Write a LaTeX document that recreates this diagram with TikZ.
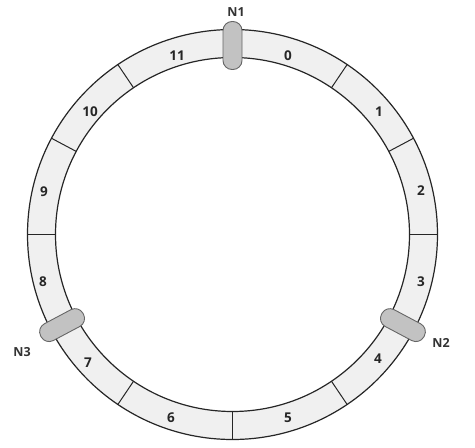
\documentclass[tikz,border=0pt]{standalone}
\usepackage{fontspec}
\setmainfont{Open Sans}
\begin{document}
\begin{tikzpicture}[x=1pt,y=1pt,
  ringline/.style={draw=black!85, line width=1.2pt},
  divider/.style={draw=black!85, line width=1pt},
  pill/.style={draw=black!60, line width=0.9pt, fill=black!24, rounded corners=9pt, minimum width=48pt, minimum height=19pt, inner sep=0pt},
  num/.style={font=\fontsize{13.5}{14}\selectfont\bfseries, text=black!85, inner sep=0pt},
  lab/.style={font=\fontsize{12.5}{13}\selectfont\bfseries, text=black!80, inner sep=0pt}]
\useasboundingbox (0,0) rectangle (475,-448);
\begin{scope}[shift={(232.5,-234.5)}]
  \fill[black!6, even odd rule] (0,0) circle (205) (0,0) circle (177);
  \draw[ringline] (0,0) circle (205);
  \draw[ringline] (0,0) circle (177);
  \foreach \a in {0,28,56,90,124,152,180,208,236,270,304,332}
    \draw[divider] (\a:177) -- (\a:205);
  \node[pill, rotate=90] (p1) at (90:189) {};
  \node[pill, rotate=-28] (p2) at (-28:193) {};
  \node[pill, rotate=208] (p3) at (208:193) {};
\end{scope}
\node[lab] (N1) at (236,-12) {N1};
\node[lab] (N2) at (441,-343) {N2};
\node[lab] (N3) at (22,-352) {N3};
\node[num] (s0) at (288,-56) {0};
\node[num] (s1) at (379,-112) {1};
\node[num] (s2) at (421,-191) {2};
\node[num] (s3) at (421,-282) {3};
\node[num] (s4) at (378,-359) {4};
\node[num] (s5) at (288,-418) {5};
\node[num] (s6) at (171,-418) {6};
\node[num] (s7) at (88,-363) {7};
\node[num] (s8) at (43,-282) {8};
\node[num] (s9) at (44,-192) {9};
\node[num] (s10) at (90,-112) {10};
\node[num] (s11) at (177,-56) {11};
\end{tikzpicture}
\end{document}
